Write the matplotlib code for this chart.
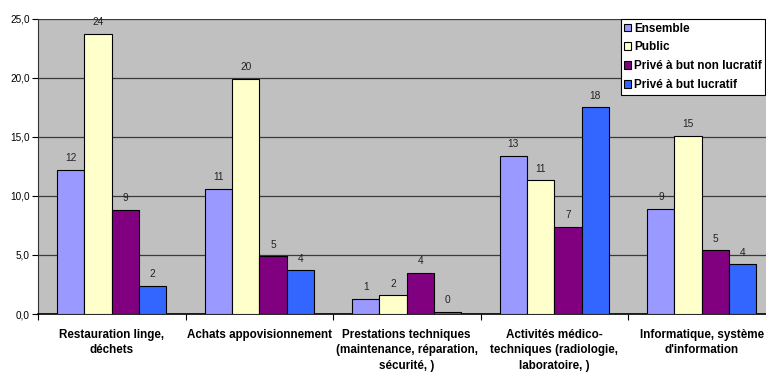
import numpy as np
import matplotlib.pyplot as plt

categories = ["Restauration linge,\ndéchets",
              "Achats appovisionnement",
              "Prestations techniques\n(maintenance, réparation,\nsécurité, )",
              "Activités médico-\ntechniques (radiologie,\nlaboratoire, )",
              "Informatique, système\nd'information"]
series = ["Ensemble", "Public", "Privé à but non lucratif", "Privé à but lucratif"]
ensemble = [12.2, 10.6, 1.3, 13.4, 8.9]
public = [23.7, 19.9, 1.6, 11.3, 15.1]
prive_nl = [8.8, 4.9, 3.5, 7.4, 5.4]
prive_l = [2.4, 3.7, 0.2, 17.5, 4.2]
colors = ["#9999FF", "#FFFFCC", "#800080", "#3366FF"]

plt.rcParams['font.family'] = ['Liberation Sans', 'DejaVu Sans']

fig = plt.figure(figsize=(7.66, 3.72), dpi=100)
W, H = 766.0, 372.0
# plot area goes a bit past the right edge, like the original
ax = fig.add_axes([38 / W, (H - 314) / H, 737.5 / W, (314 - 18.5) / H])
ax.set_facecolor("#C0C0C0")

values = [ensemble, public, prive_nl, prive_l]
x = np.arange(len(categories))
bw = 0.185
for i, (name, vals) in enumerate(zip(series, values)):
    pos = x - 1.5 * bw + i * bw
    ax.bar(pos, vals, width=bw, color=colors[i], edgecolor="black", linewidth=0.8,
           label=name, zorder=3)
    for p, v in zip(pos, vals):
        ax.text(p, v + 0.55, "%d" % round(v), ha="center", va="bottom",
                fontsize=7.3, color="#222222", zorder=4)

ax.set_xlim(-0.5, len(categories) - 0.5)
ax.set_ylim(0, 25)
ax.set_yticks(np.arange(0, 26, 5))
ax.yaxis.set_major_formatter(plt.FuncFormatter(lambda v, p: ("%.1f" % v).replace(".", ",")))
ax.grid(axis="y", color="#3a3a3a", linewidth=0.9, zorder=1)
ax.set_xticks(np.arange(len(categories) + 1) - 0.5, minor=False)
ax.set_xticklabels([])
ax.set_xticks(x, minor=True)
ax.set_xticklabels(categories, minor=True, fontsize=8.4, fontweight="bold", linespacing=1.35)
ax.tick_params(axis="x", which="minor", length=0, pad=11)
ax.tick_params(axis="x", which="major", length=4, width=0.8, direction="out")
ax.tick_params(axis="y", length=4, width=0.8, labelsize=7.2, pad=2)
for s in ["top", "right"]:
    ax.spines[s].set_visible(False)
ax.spines["left"].set_color("#333333")
ax.spines["bottom"].set_color("black")
ax.spines["bottom"].set_linewidth(1.2)

leg = fig.legend(loc="upper left", bbox_to_anchor=(620.5 / W, 1 - 19 / H),
                 prop={"size": 8.5, "weight": "bold"}, frameon=True, fancybox=False,
                 handlelength=0.6, handleheight=0.6, handletextpad=0.25,
                 labelspacing=0.58, borderpad=0.3, borderaxespad=0)
leg.get_frame().set_edgecolor("black")
leg.get_frame().set_linewidth(0.8)
leg.get_frame().set_alpha(1)

fig.savefig("out.png", dpi=100)
